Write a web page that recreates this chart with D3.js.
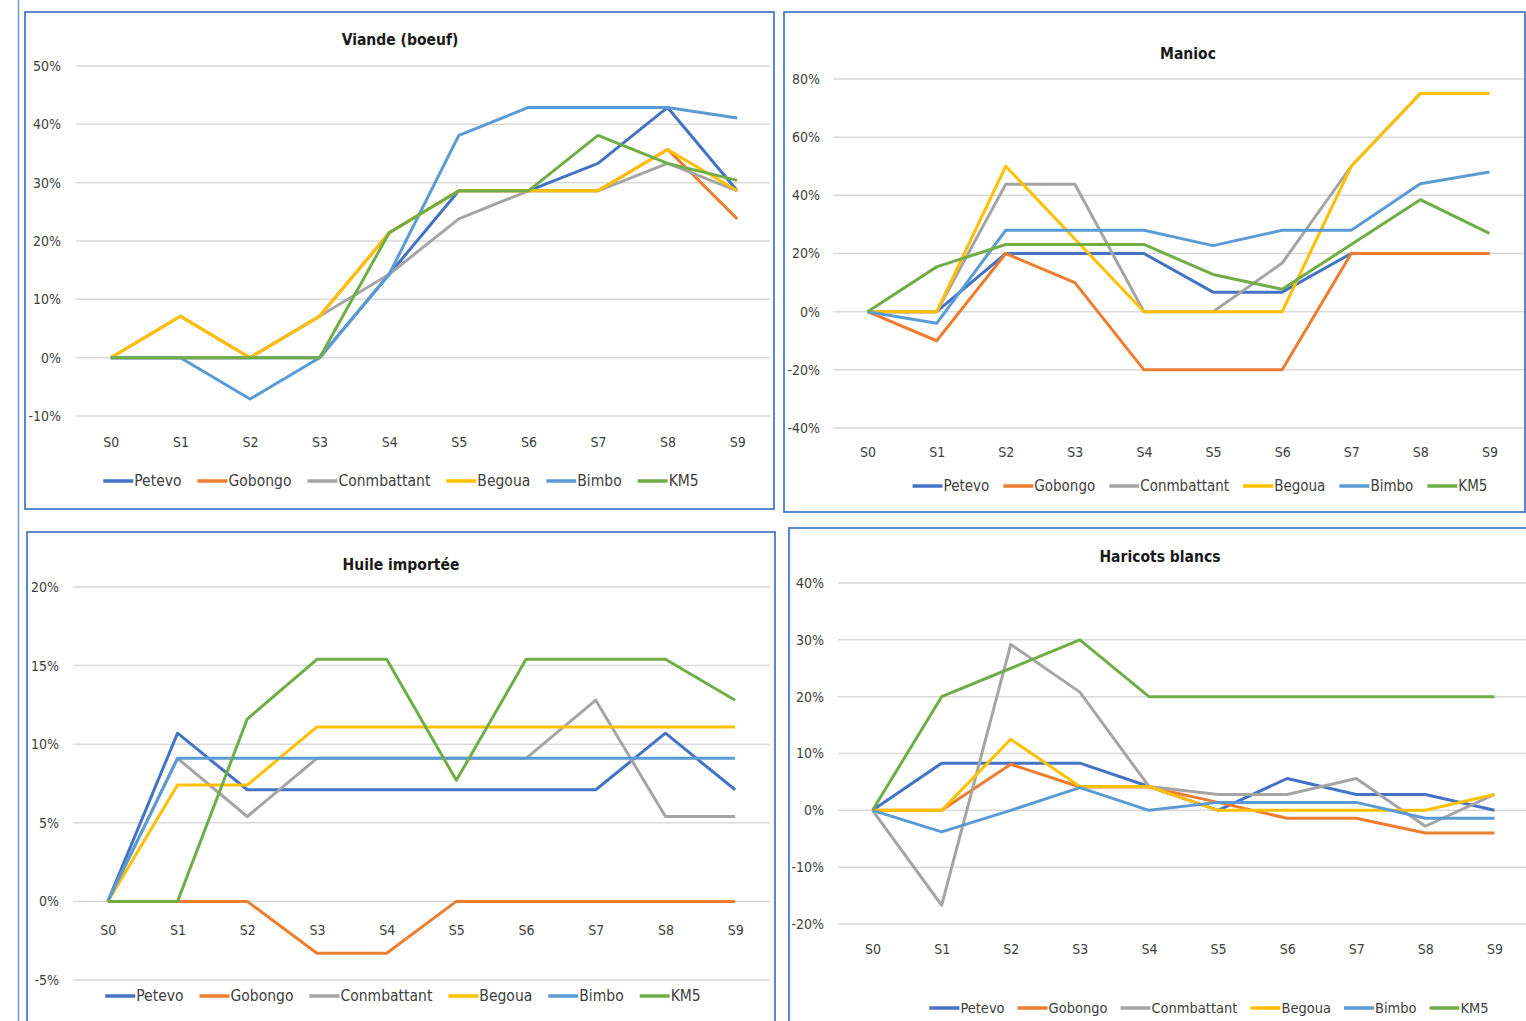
<!DOCTYPE html>
<html>
<head>
<meta charset="utf-8">
<script src="https://cdn.jsdelivr.net/npm/d3@7"></script>
<style>
	body { margin: 0; background: #fff; }
	svg text { font-family: "Liberation Sans Narrow", "DejaVu Sans Condensed", "Open Sans", sans-serif; }
</style>
</head>
<body>
<div id="graph"></div>
<script>
/*
=====================================================
=========	DATA	=========
=====================================================
*/

var categories = ["S0", "S1", "S2", "S3", "S4", "S5", "S6", "S7", "S8", "S9"];
var seriesNames = ["Petevo", "Gobongo", "Conmbattant", "Begoua", "Bimbo", "KM5"];

// Viande (boeuf), %
var viandePetevo      = [0, 0, 0, 0, 14.3, 28.6, 28.6, 33.3, 42.9, 28.6];
var viandeGobongo     = [0, 7.1, 0, 7.1, 21.4, 28.6, 28.6, 28.6, 35.7, 23.8];
var viandeConmbattant = [0, 0, 0, 7.1, 14.3, 23.8, 28.6, 28.6, 33.3, 28.6];
var viandeBegoua      = [0, 7.1, 0, 7.1, 21.4, 28.6, 28.6, 28.6, 35.7, 28.6];
var viandeBimbo       = [0, 0, -7.1, 0, 14.3, 38.1, 42.9, 42.9, 42.9, 41.1];
var viandeKM5         = [0, 0, 0, 0, 21.4, 28.6, 28.6, 38.1, 33.3, 30.4];
var viandeTicks       = [-10, 0, 10, 20, 30, 40, 50];

// Manioc, %
var maniocPetevo      = [0, 0, 20, 20, 20, 6.7, 6.7, 20, 20, 20];
var maniocGobongo     = [0, -10, 20, 10, -20, -20, -20, 20, 20, 20];
var maniocConmbattant = [0, 0, 43.8, 43.8, 0, 0, 16.7, 50, 75, 75];
var maniocBegoua      = [0, 0, 50, 25, 0, 0, 0, 50, 75, 75];
var maniocBimbo       = [0, -4, 28, 28, 28, 22.7, 28, 28, 44, 48];
var maniocKM5         = [0, 15.4, 23.1, 23.1, 23.1, 12.8, 7.7, 23.1, 38.5, 26.9];
var maniocTicks       = [-40, -20, 0, 20, 40, 60, 80];

// Huile importée, %
var huilePetevo      = [0, 10.7, 7.1, 7.1, 7.1, 7.1, 7.1, 7.1, 10.7, 7.1];
var huileGobongo     = [0, 0, 0, -3.3, -3.3, 0, 0, 0, 0, 0];
var huileConmbattant = [0, 9.1, 5.4, 9.1, 9.1, 9.1, 9.1, 12.8, 5.4, 5.4];
var huileBegoua      = [0, 7.4, 7.4, 11.1, 11.1, 11.1, 11.1, 11.1, 11.1, 11.1];
var huileBimbo       = [0, 9.1, 9.1, 9.1, 9.1, 9.1, 9.1, 9.1, 9.1, 9.1];
var huileKM5         = [0, 0, 11.6, 15.4, 15.4, 7.7, 15.4, 15.4, 15.4, 12.8];
var huileTicks       = [-5, 0, 5, 10, 15, 20];

// Haricots blancs, %
var haricotsPetevo      = [0, 8.3, 8.3, 8.3, 4.2, 0, 5.6, 2.8, 2.8, 0];
var haricotsGobongo     = [0, 0, 8.1, 4.1, 4.1, 1.4, -1.4, -1.4, -4.0, -4.0];
var haricotsConmbattant = [0, -16.7, 29.2, 20.8, 4.2, 2.8, 2.8, 5.6, -2.8, 2.8];
var haricotsBegoua      = [0, 0, 12.5, 4.2, 4.2, 0, 0, 0, 0, 2.8];
var haricotsBimbo       = [0, -3.8, 0, 4.0, 0, 1.4, 1.4, 1.4, -1.4, -1.4];
var haricotsKM5         = [0, 20, 25, 30, 20, 20, 20, 20, 20, 20];
var haricotsTicks       = [-20, -10, 0, 10, 20, 30, 40];

/*
=====================================================
=========	SVG + PANELS	=========
=====================================================
*/

var SVGwidth = 1526,
	SVGheight = 1021;

var color = d3.scaleOrdinal()
	.domain(seriesNames)
	.range(["#4472C4", "#ED7D31", "#A5A5A5", "#FFC000", "#5B9BD5", "#70AD47"]);

var svg = d3.select('div#graph')
	.append('svg')
	.attr('width', SVGwidth)
	.attr('height', SVGheight);

// thin blue rule on the far left
svg.append("line")
	.attr("x1", 18.5).attr("x2", 18.5)
	.attr("y1", 0).attr("y2", SVGheight)
	.attr("stroke", "#6f9bd6")
	.attr("stroke-width", 1.5);

function drawChart(p, title, series, ticks){
	var box = svg.append("g").attr("class", "panel");

	box.append("rect")
		.attr("x", p.box[0]).attr("y", p.box[1])
		.attr("width", p.box[2] - p.box[0]).attr("height", p.box[3] - p.box[1])
		.attr("fill", "#fff")
		.attr("stroke", "#4a7cc7")
		.attr("stroke-width", 1.8);

	var x = d3.scalePoint()
		.domain(categories)
		.range(p.xr)
		.padding(0.5);

	var y = d3.scaleLinear()
		.domain([ticks[0], ticks[ticks.length - 1]])
		.range(p.yr);

	// gridlines
	box.append("g")
		.selectAll("line")
		.data(ticks)
		.enter()
		.append("line")
		.attr("x1", p.xr[0]).attr("x2", p.gridEnd)
		.attr("y1", function(d){ return y(d); })
		.attr("y2", function(d){ return y(d); })
		.attr("stroke", "#d9d9d9")
		.attr("stroke-width", 1.5);

	var yAxis = d3.axisLeft(y)
		.tickValues(ticks)
		.tickSize(0)
		.tickPadding(0)
		.tickFormat(function(d){ return d + "%"; });

	var ya = box.append("g")
		.attr("transform", "translate(" + p.yLab + ",0)")
		.call(yAxis);
	ya.select(".domain").remove();
	ya.selectAll("text").attr("font-size", p.fs).attr("fill", "#404040");

	var xAxis = d3.axisBottom(x).tickSize(0).tickPadding(0);
	var xa = box.append("g")
		.attr("transform", "translate(0," + p.xLab + ")")
		.call(xAxis);
	xa.select(".domain").remove();
	xa.selectAll("text").attr("font-size", p.fs).attr("fill", "#404040").attr("dy", "0.35em");

	box.append("text")
		.attr("x", p.title[0]).attr("y", p.title[1])
		.attr("text-anchor", "middle")
		.attr("dy", "0.35em")
		.attr("font-size", p.tfs)
		.attr("font-weight", "bold")
		.attr("fill", "#1a1a1a")
		.text(title);

	var line = d3.line()
		.x(function(d, i){ return x(categories[i]); })
		.y(function(d){ return y(d); });

	seriesNames.forEach(function(name, k){
		box.append("path")
			.datum(series[k])
			.attr("fill", "none")
			.attr("stroke", color(name))
			.attr("stroke-width", 3)
			.attr("stroke-linejoin", "round")
			.attr("d", line);
	});

	// legend, centred
	var leg = box.append("g");
	var cx = 0;
	seriesNames.forEach(function(name){
		var it = leg.append("g").attr("transform", "translate(" + cx + ",0)");
		it.append("line")
			.attr("x1", 0).attr("x2", 30)
			.attr("stroke", color(name))
			.attr("stroke-width", 3.5);
		var t = it.append("text")
			.attr("x", 31)
			.attr("dy", "0.35em")
			.attr("font-size", p.lfs)
			.attr("fill", "#404040")
			.text(name);
		cx += 31 + t.node().getComputedTextLength() + p.lgap;
	});
	cx -= p.lgap;
	leg.attr("transform", "translate(" + (p.legend[0] - cx / 2) + "," + p.legend[1] + ")");
}

drawChart({box: [25, 12, 774, 509], xr: [76, 772], gridEnd: 770, yr: [416, 66], yLab: 61, xLab: 442,
		title: [400, 40], legend: [401, 481], fs: 14, tfs: 15.5, lfs: 15.5, lgap: 16},
	"Viande (boeuf)",
	[viandePetevo, viandeGobongo, viandeConmbattant, viandeBegoua, viandeBimbo, viandeKM5], viandeTicks);

drawChart({box: [784, 12, 1525, 512], xr: [833, 1524], gridEnd: 1524, yr: [428, 79], yLab: 820, xLab: 452,
		title: [1188, 54], legend: [1200, 486], fs: 14, tfs: 15.5, lfs: 15, lgap: 14},
	"Manioc",
	[maniocPetevo, maniocGobongo, maniocConmbattant, maniocBegoua, maniocBimbo, maniocKM5], maniocTicks);

drawChart({box: [27, 532, 775, 1040], xr: [73, 770], gridEnd: 770, yr: [980, 587], yLab: 59, xLab: 930,
		title: [401, 565], legend: [403, 996], fs: 14, tfs: 15.5, lfs: 15.5, lgap: 16},
	"Huile importée",
	[huilePetevo, huileGobongo, huileConmbattant, huileBegoua, huileBimbo, huileKM5], huileTicks);

drawChart({box: [789, 528, 1540, 1040], xr: [838, 1529], gridEnd: 1526, yr: [924, 583], yLab: 824, xLab: 949,
		title: [1160, 557], legend: [1209, 1008], fs: 14, tfs: 15.5, lfs: 14.5, lgap: 13},
	"Haricots blancs",
	[haricotsPetevo, haricotsGobongo, haricotsConmbattant, haricotsBegoua, haricotsBimbo, haricotsKM5], haricotsTicks);
</script>
</body>
</html>
